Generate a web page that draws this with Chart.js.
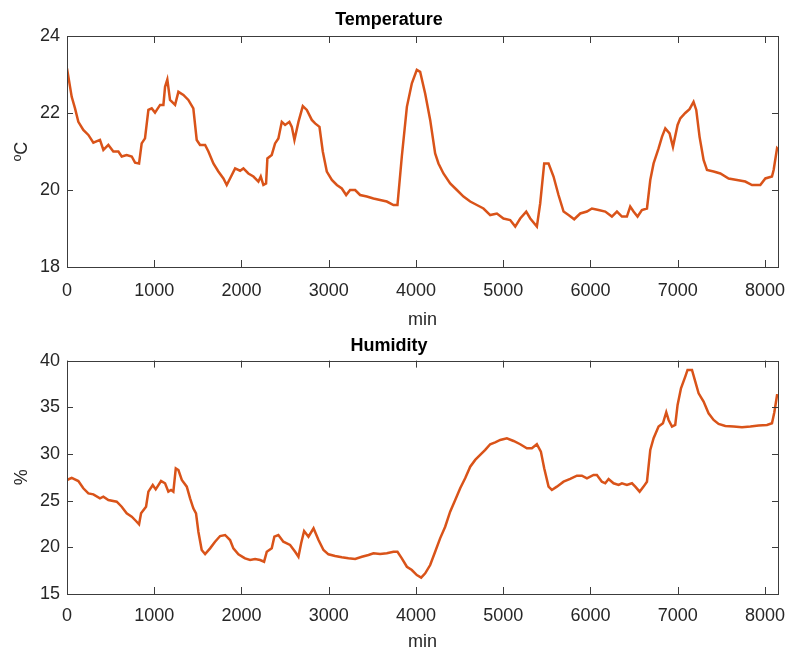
<!DOCTYPE html>
<html>
<head>
<meta charset="utf-8">
<script src="https://cdn.jsdelivr.net/npm/chart.js@4"></script>
<style>
  html, body { margin: 0; padding: 0; background: #fff; }
  canvas { display: block; }
</style>
</head>
<body>
<canvas id="tempChart" width="789" height="328"></canvas>
<canvas id="humChart" width="789" height="328"></canvas>
<script>
// minutes and readings
const tempMinutes = [0, 54, 92, 130, 187, 245, 302, 378, 417, 474, 531, 589, 627, 684, 742, 780, 826, 856, 894, 933,
  971, 1009, 1067, 1105, 1124, 1150, 1181, 1239, 1277, 1334, 1391, 1448, 1487, 1525, 1583, 1621, 1678, 1735, 1793, 1831,
  1869, 1927, 1984, 2022, 2079, 2137, 2194, 2221, 2251, 2282, 2297, 2347, 2385, 2423, 2462, 2500, 2549, 2577, 2607, 2653,
  2703, 2749, 2806, 2844, 2894, 2932, 2978, 3036, 3093, 3150, 3200, 3245, 3303, 3360, 3437, 3513, 3589, 3666, 3742, 3788,
  3838, 3896, 3953, 4010, 4048, 4106, 4163, 4220, 4258, 4315, 4392, 4469, 4545, 4622, 4698, 4774, 4851, 4928, 5003, 5080,
  5138, 5195, 5264, 5310, 5386, 5424, 5470, 5520, 5577, 5634, 5692, 5749, 5814, 5883, 5960, 6017, 6093, 6170, 6246, 6304,
  6361, 6418, 6456, 6494, 6540, 6590, 6648, 6686, 6724, 6781, 6820, 6858, 6907, 6946, 6999, 7030, 7087, 7136, 7182, 7213,
  7251, 7297, 7336, 7412, 7489, 7584, 7680, 7775, 7852, 7947, 8005, 8081, 8100, 8139, 8150];
const tempValues = [23.16, 22.42, 22.12, 21.77, 21.56, 21.43, 21.23, 21.30, 21.04, 21.17, 21.0, 21.0, 20.87, 20.91, 20.87, 20.71, 20.69, 21.21, 21.34, 22.08,
  22.12, 22.01, 22.21, 22.21, 22.68, 22.87, 22.34, 22.21, 22.55, 22.47, 22.34, 22.12, 21.30, 21.17, 21.17, 21.0, 20.69, 20.48, 20.30, 20.13,
  20.30, 20.56, 20.50, 20.56, 20.43, 20.35, 20.22, 20.35, 20.13, 20.17, 20.82, 20.91, 21.21, 21.34, 21.77, 21.69, 21.77, 21.64, 21.30, 21.77,
  22.18, 22.08, 21.82, 21.73, 21.64, 21.0, 20.48, 20.26, 20.13, 20.04, 19.87, 20.0, 20.0, 19.87, 19.83, 19.78, 19.74, 19.70, 19.61, 19.61,
  20.87, 22.16, 22.77, 23.12, 23.07, 22.5, 21.82, 20.95, 20.69, 20.43, 20.17, 20.0, 19.83, 19.70, 19.61, 19.52, 19.35, 19.39, 19.26, 19.22,
  19.05, 19.26, 19.44, 19.26, 19.05, 19.65, 20.69, 20.69, 20.35, 19.87, 19.44, 19.35, 19.24, 19.39, 19.44, 19.52, 19.48, 19.44, 19.31, 19.44,
  19.31, 19.31, 19.57, 19.44, 19.31, 19.48, 19.52, 20.26, 20.69, 21.08, 21.38, 21.60, 21.47, 21.12, 21.69, 21.86, 22.0, 22.10, 22.29, 22.08,
  21.38, 20.78, 20.52, 20.48, 20.43, 20.30, 20.26, 20.22, 20.13, 20.13, 20.30, 20.35, 20.52, 21.08, 21.05];

const humMinutes = [0, 54, 130, 187, 245, 302, 378, 417, 474, 570, 627, 684, 742, 791, 826, 849, 906, 933, 983, 1017,
  1078, 1124, 1162, 1193, 1219, 1247, 1277, 1316, 1373, 1411, 1448, 1479, 1506, 1544, 1583, 1640, 1697, 1755, 1812, 1869,
  1907, 1965, 2022, 2041, 2099, 2156, 2213, 2259, 2290, 2347, 2377, 2423, 2480, 2557, 2615, 2653, 2684, 2718, 2768, 2826,
  2883, 2940, 2997, 3073, 3150, 3226, 3303, 3380, 3456, 3513, 3589, 3666, 3742, 3788, 3838, 3896, 3953, 4010, 4060, 4106,
  4163, 4220, 4277, 4335, 4392, 4450, 4507, 4564, 4622, 4679, 4736, 4794, 4851, 4908, 4966, 5042, 5119, 5195, 5271, 5329,
  5386, 5432, 5470, 5520, 5558, 5615, 5692, 5768, 5845, 5902, 5960, 6036, 6074, 6131, 6170, 6208, 6265, 6323, 6361, 6418,
  6476, 6514, 6564, 6609, 6648, 6686, 6724, 6781, 6831, 6869, 6896, 6935, 6972, 6999, 7038, 7087, 7113, 7164, 7202, 7240,
  7297, 7354, 7412, 7469, 7546, 7641, 7737, 7833, 7928, 8024, 8081, 8108, 8139, 8150];
const humValues = [27.21, 27.45, 27.1, 26.32, 25.78, 25.67, 25.25, 25.42, 25.07, 24.89, 24.35, 23.64, 23.28, 22.82, 22.46, 23.64, 24.35, 25.96, 26.68, 26.21,
  27.1, 26.86, 25.96, 26.14, 25.96, 28.46, 28.28, 27.21, 26.5, 25.25, 24.18, 23.64, 21.67, 19.71, 19.28, 19.89, 20.6, 21.21, 21.32, 20.78,
  19.89, 19.25, 18.93, 18.82, 18.64, 18.75, 18.64, 18.46, 19.53, 19.89, 21.14, 21.32, 20.6, 20.25, 19.53, 18.99, 20.43, 21.75, 21.14, 22.04,
  20.78, 19.71, 19.25, 19.07, 18.93, 18.82, 18.75, 18.99, 19.18, 19.36, 19.28, 19.36, 19.53, 19.53, 18.82, 17.92, 17.57, 17.03, 16.75, 17.21,
  18.1, 19.53, 20.96, 22.21, 23.82, 25.07, 26.32, 27.39, 28.64, 29.36, 29.89, 30.43, 31.04, 31.25, 31.5, 31.68, 31.39, 31.04, 30.61, 30.61,
  31.04, 30.25, 28.46, 26.5, 26.14, 26.5, 27.03, 27.32, 27.67, 27.67, 27.39, 27.75, 27.75, 27.03, 26.86, 27.32, 26.86, 26.68, 26.86, 26.68,
  26.86, 26.5, 25.96, 26.5, 27.03, 30.43, 31.68, 32.93, 33.29, 34.47, 33.64, 32.93, 33.11, 35.25, 37.04, 38.29, 39.0, 39.0, 37.75, 36.5,
  35.61, 34.36, 33.64, 33.21, 33.0, 32.93, 32.86, 32.93, 33.04, 33.11, 33.29, 34.47, 36.29, 36.3];

const minuteTicks = [0, 1000, 2000, 3000, 4000, 5000, 6000, 7000, 8000];
const tempTicks = [18, 20, 22, 24];
const humTicks = [15, 20, 25, 30, 35, 40];

const lineColor = '#d95319';
const axisColor = '#262626';

Chart.defaults.font.family = "'Liberation Sans', Arial, sans-serif";
Chart.defaults.font.size = 18;
Chart.defaults.color = axisColor;

// MATLAB style box with inward tick marks on all four sides
const boxPlugin = {
  id: 'matlabBox',
  afterDraw(chart) {
    const { ctx, chartArea: a, scales } = chart;
    ctx.save();
    ctx.strokeStyle = '#3c3c3c';
    ctx.lineWidth = 1;
    ctx.strokeRect(Math.round(a.left) + 0.5, Math.round(a.top) + 0.5,
      Math.round(a.right) - Math.round(a.left), Math.round(a.bottom) - Math.round(a.top));
    ctx.beginPath();
    scales.x.ticks.forEach(t => {
      const px = Math.round(scales.x.getPixelForValue(t.value)) + 0.5;
      ctx.moveTo(px, a.bottom); ctx.lineTo(px, a.bottom - 7);
      ctx.moveTo(px, a.top); ctx.lineTo(px, a.top + 7);
    });
    scales.y.ticks.forEach(t => {
      const py = Math.round(scales.y.getPixelForValue(t.value)) + 0.5;
      ctx.moveTo(a.left, py); ctx.lineTo(a.left + 6, py);
      ctx.moveTo(a.right, py); ctx.lineTo(a.right - 6, py);
    });
    ctx.stroke();
    ctx.restore();
  }
};

function makeChart(canvasId, xs, ys, title, yLabel, yTicks, opts) {
  const ctx = document.getElementById(canvasId);
  const points = xs.map((x, i) => ({ x: x, y: ys[i] }));
  return new Chart(ctx, {
    type: 'line',
    data: {
      datasets: [{
        data: points,
        borderColor: lineColor,
        borderWidth: 2.5,
        pointRadius: 0,
        tension: 0
      }]
    },
    options: {
      responsive: false,
      animation: false,
      devicePixelRatio: 1,
      layout: { padding: { left: 0, right: 11, top: 0, bottom: 0 } },
      plugins: {
        legend: { display: false },
        tooltip: { enabled: false },
        title: {
          display: true,
          text: title,
          color: '#000',
          font: { size: 18, weight: 'bold' },
          padding: opts.titlePadding
        }
      },
      scales: {
        x: {
          type: 'linear',
          min: 0,
          max: 8150,
          afterBuildTicks: s => { s.ticks = minuteTicks.map(v => ({ value: v })); },
          afterFit: s => {
            s.height = opts.xHeight;
            s.paddingLeft = 0;
            s.paddingRight = 0;
          },
          grid: { display: false, drawTicks: false },
          border: { display: false },
          ticks: { padding: opts.xTickPad, maxRotation: 0, callback: v => String(v) },
          title: { display: true, text: 'min', padding: { top: 0, bottom: opts.minPad } }
        },
        y: {
          min: yTicks[0],
          max: yTicks[yTicks.length - 1],
          afterBuildTicks: s => { s.ticks = yTicks.map(v => ({ value: v })); },
          afterFit: s => { s.width = 67; },
          grid: { display: false, drawTicks: false },
          border: { display: false },
          ticks: { padding: 7, callback: v => String(v) },
          title: { display: true, text: yLabel, padding: { top: 11, bottom: 0 } }
        }
      }
    },
    plugins: [boxPlugin]
  });
}

makeChart('tempChart', tempMinutes, tempValues, 'Temperature', 'ºC', tempTicks,
  { titlePadding: { top: 9, bottom: 5.4 }, xHeight: 61, minPad: -3, xTickPad: 13 });
makeChart('humChart', humMinutes, humValues, 'Humidity', '%', humTicks,
  { titlePadding: { top: 7, bottom: 4 }, xHeight: 62, minPad: 3, xTickPad: 11 });
</script>
</body>
</html>
